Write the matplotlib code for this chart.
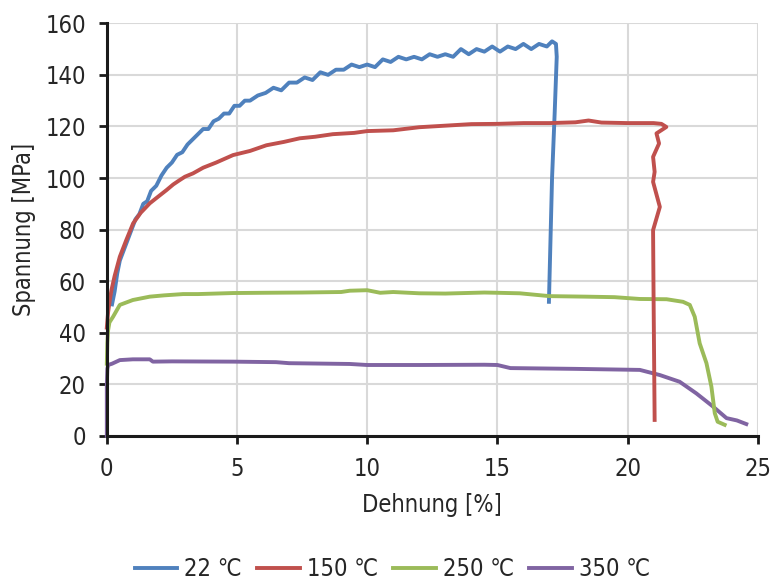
import matplotlib.pyplot as plt

plt.rcParams['font.family'] = ['DejaVu Sans']
plt.rcParams['font.stretch'] = 'condensed'

# Daten (Dehnung in %, Spannung in MPa)
x22 = [0.2, 0.3, 0.4, 0.5, 0.65, 0.8, 0.95, 1.1, 1.25, 1.4, 1.55, 1.7, 1.9, 2.1, 2.3,
       2.5, 2.7, 2.9, 3.1, 3.3, 3.5, 3.7, 3.9, 4.1, 4.3, 4.5, 4.7, 4.9, 5.1, 5.3,
       5.5, 5.8, 6.1, 6.4, 6.7, 7.0, 7.3, 7.6, 7.9, 8.2, 8.5, 8.8, 9.1, 9.4, 9.7,
       10.0, 10.3, 10.6, 10.9, 11.2, 11.5, 11.8, 12.1, 12.4, 12.7, 13.0, 13.3, 13.6, 13.9, 14.2,
       14.5, 14.8, 15.1, 15.4, 15.7, 16.0, 16.3, 16.6, 16.9, 17.1, 17.25, 17.28, 17.2, 17.1, 16.98]
y22 = [51, 56, 63, 68, 72, 76, 80, 84, 86, 90, 91, 95, 97, 101, 104,
       106, 109, 110, 113, 115, 117, 119, 119, 122, 123, 125, 125, 128, 128, 130,
       130, 132, 133, 135, 134, 137, 137, 139, 138, 141, 140, 142, 142, 144, 143,
       144, 143, 146, 145, 147, 146, 147, 146, 148, 147, 148, 147, 150, 148, 150,
       149, 151, 149, 151, 150, 152, 150, 152, 151, 153, 152, 147, 125, 100, 52]

x150 = [0, 0.05, 0.12, 0.18, 0.3, 0.5, 0.75, 1.01, 1.3, 1.65, 2.0, 2.29, 2.55, 2.8, 3.0,
        3.31, 3.7, 4.2, 4.85, 5.5, 6.13, 6.8, 7.41, 8.0, 8.68, 9.5, 10.0, 11.0, 12.0, 13.0,
        14.0, 15.0, 16.0, 17.0, 18.0, 18.5, 19.0, 20.0, 21.0, 21.3, 21.49, 21.11, 21.21, 20.98, 21.04,
        20.98, 21.24, 20.98, 21.0, 21.04]
y150 = [42, 48, 53, 56.6, 62, 69.5, 76, 82.4, 86.5, 90.2, 93, 95.3, 97.5, 99.2, 100.5,
        101.8, 104, 106, 108.9, 110.5, 112.7, 114, 115.4, 116, 117, 117.5, 118.2, 118.5, 119.7, 120.3,
        120.9, 121, 121.3, 121.3, 121.6, 122.3, 121.5, 121.3, 121.3, 121, 119.8, 117.3, 113.4, 108.2, 102.4,
        98.5, 88.8, 79.8, 52.7, 6.2]

x250 = [0, 0.02, 0.05, 0.1, 0.24, 0.5, 1.0, 1.65, 2.2, 2.93, 3.5, 4.85, 6.0, 7.5, 9.0,
        9.33, 10.0, 10.5, 11.0, 12.0, 13.0, 14.5, 15.0, 15.86, 17.0, 18.42, 19.5, 20.47, 21.5, 22.13,
        22.39, 22.58, 22.77, 23.03, 23.22, 23.35, 23.46, 23.73]
y250 = [28, 36, 41, 44, 46.2, 50.8, 52.7, 54, 54.5, 55, 55, 55.4, 55.5, 55.6, 55.8,
        56.3, 56.5, 55.5, 55.8, 55.3, 55.2, 55.6, 55.5, 55.3, 54.2, 54, 53.8, 53.1, 53, 52,
        50.8, 46.2, 35.9, 28.2, 19.1, 8.8, 5.5, 4.3]

x350 = [0, 0.0, 0.02, 0.05, 0.2, 0.5, 1.0, 1.65, 1.77, 2.5, 4.85, 6.5, 7.0, 9.33, 10.0,
        12.0, 14.5, 15.0, 15.5, 18.0, 20.47, 21.24, 22.0, 22.64, 23.28, 23.8, 24.2, 24.56]
y350 = [0, 20, 26, 27.5, 28, 29.4, 29.7, 29.7, 28.8, 28.9, 28.8, 28.6, 28.2, 27.9, 27.5,
        27.5, 27.6, 27.5, 26.3, 26, 25.6, 23.6, 21, 16.5, 11.4, 6.9, 6.0, 4.6]

labels = ['22 ℃', '150 ℃', '250 ℃', '350 ℃']
farben = ['#4F81BD', '#C0504D', '#9BBB59', '#8064A2']

fig = plt.figure(figsize=(7.74, 5.82), dpi=100)
ax = fig.add_axes([0.138, 0.251, 0.841, 0.709])

ax.plot(x22, y22, color=farben[0], lw=2.8, label=labels[0], zorder=3, clip_on=False)
ax.plot(x150, y150, color=farben[1], lw=2.8, label=labels[1], zorder=5, clip_on=False)
ax.plot(x250, y250, color=farben[2], lw=2.8, label=labels[2], zorder=4, clip_on=False)
ax.plot(x350, y350, color=farben[3], lw=2.8, label=labels[3], zorder=3, clip_on=False)

ax.set_xlim(0, 25)
ax.set_ylim(0, 160)
ax.set_xticks(range(0, 26, 5))
ax.set_yticks(range(0, 161, 20))
ax.grid(color='#d9d9d9', lw=1.5)
ax.set_axisbelow(True)

for s in ['top', 'right']:
    ax.spines[s].set_visible(False)
for s in ['left', 'bottom']:
    ax.spines[s].set_linewidth(2.2)
    ax.spines[s].set_color('#1a1a1a')
    ax.spines[s].set_zorder(6)

ax.tick_params(axis='both', direction='out', length=6, width=2, color='#1a1a1a',
               labelsize=17, labelcolor='#262626')
ax.tick_params(axis='y', pad=9)
ax.tick_params(axis='x', pad=9)

ax.set_xlabel('Dehnung [%]', fontsize=17, color='#262626', labelpad=9)
ax.set_ylabel('Spannung [MPa]', fontsize=17, color='#262626', labelpad=7)

fig.legend(loc='center', bbox_to_anchor=(0.507, 0.022), ncol=4, frameon=False,
           fontsize=17, handlelength=1.8, columnspacing=0.65, handletextpad=0.3,
           labelcolor='#262626')

plt.savefig('out.png', dpi=100)
